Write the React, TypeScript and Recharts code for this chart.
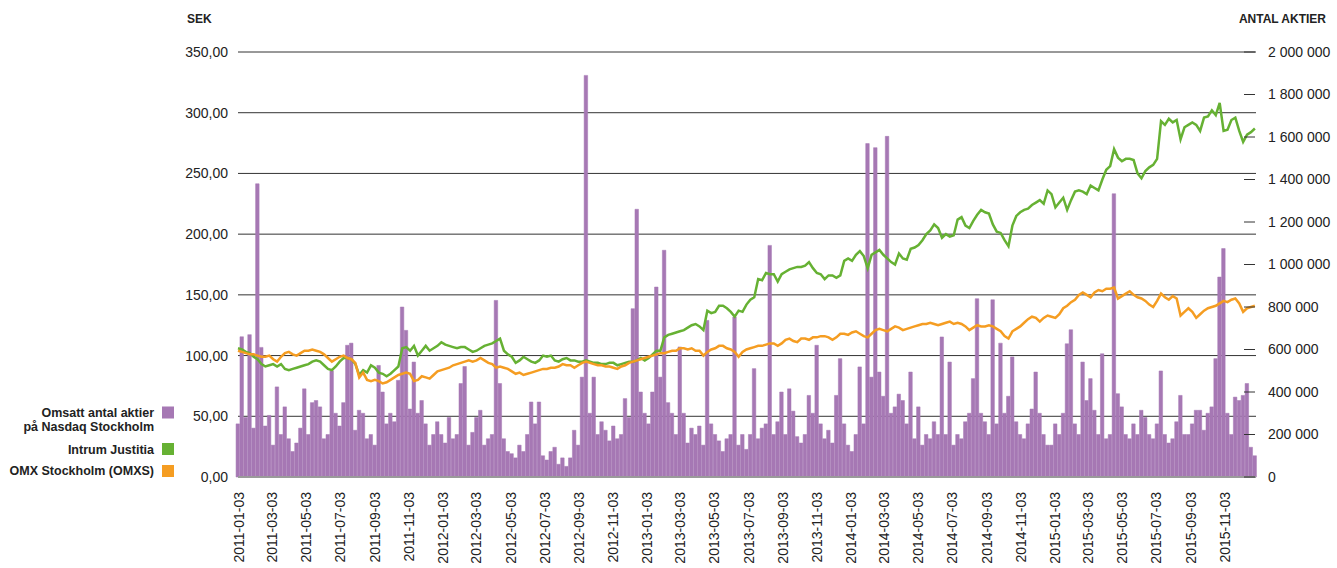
import React from 'react';
import { ComposedChart, Bar, Line, XAxis, YAxis, CartesianGrid } from 'recharts';

// x-axis labels (every second month)
const tickDates = [
  '2011-01-03', '2011-03-03', '2011-05-03', '2011-07-03', '2011-09-03', '2011-11-03',
  '2012-01-03', '2012-03-03', '2012-05-03', '2012-07-03', '2012-09-03', '2012-11-03',
  '2013-01-03', '2013-03-03', '2013-05-03', '2013-07-03', '2013-09-03', '2013-11-03',
  '2014-01-03', '2014-03-03', '2014-05-03', '2014-07-03', '2014-09-03', '2014-11-03',
  '2015-01-03', '2015-03-03', '2015-05-03', '2015-07-03', '2015-09-03', '2015-11-03',
];

const sekTicks = [0, 50, 100, 150, 200, 250, 300, 350];
const volumeTicks = [0, 200000, 400000, 600000, 800000, 1000000, 1200000, 1400000, 1600000, 1800000, 2000000];

// Intrum Justitia, SEK, weekly
const intrum2011 = [106, 105, 103, 102, 99, 97, 93, 91, 92, 93, 91, 93, 89, 88, 89, 90, 91, 92, 93, 95, 96, 95, 92, 89, 88, 91, 95, 98, 98, 97, 93, 84, 88, 86, 92, 90, 86, 85, 83, 85, 88, 91, 106, 107, 104, 108, 100, 104, 108, 104, 106, 108];
const intrum2012 = [111, 109, 108, 107, 106, 107, 107, 105, 103, 104, 106, 108, 109, 110, 112, 114, 104, 101, 99, 94, 96, 99, 97, 95, 94, 96, 100, 99, 100, 96, 95, 97, 98, 96, 96, 95, 95, 96, 95, 94, 94, 93, 93, 94, 94, 92, 93, 94, 95, 95, 96, 98];
const intrum2013 = [96, 98, 101, 104, 104, 115, 117, 118, 119, 120, 121, 123, 125, 126, 124, 121, 137, 135, 136, 141, 141, 139, 136, 132, 137, 136, 142, 146, 148, 163, 162, 168, 167, 167, 161, 167, 169, 171, 172, 173, 173, 174, 177, 172, 168, 167, 163, 166, 166, 164, 166, 178];
const intrum2014 = [180, 178, 183, 186, 182, 172, 183, 185, 187, 183, 180, 177, 175, 184, 180, 179, 188, 189, 191, 195, 200, 203, 208, 205, 197, 200, 198, 199, 212, 214, 207, 205, 211, 216, 220, 218, 217, 208, 202, 201, 195, 190, 207, 215, 218, 220, 221, 224, 226, 228, 225, 236];
const intrum2015 = [233, 222, 226, 230, 220, 228, 235, 236, 235, 233, 240, 238, 236, 245, 253, 256, 270, 263, 260, 262, 262, 261, 250, 246, 252, 255, 257, 262, 293, 290, 295, 292, 294, 278, 288, 290, 292, 290, 285, 296, 297, 302, 298, 308, 285, 286, 294, 296, 285, 276, 282, 284, 287];

// OMX Stockholm (OMXS), indexed to Intrum, weekly
const omx2011 = [104, 103, 102, 101, 101, 100, 99, 99, 100, 97, 95, 99, 102, 103, 101, 100, 102, 104, 104, 105, 104, 103, 101, 98, 95, 97, 99, 100, 98, 97, 94, 82, 86, 80, 79, 80, 79, 77, 78, 80, 82, 84, 85, 86, 85, 79, 80, 83, 82, 81, 84, 87];
const omx2012 = [88, 89, 90, 92, 93, 94, 95, 96, 95, 96, 98, 96, 94, 93, 90, 91, 90, 89, 87, 85, 86, 84, 85, 86, 87, 88, 89, 89, 90, 90, 91, 93, 92, 92, 90, 92, 94, 95, 94, 93, 92, 92, 91, 91, 90, 89, 91, 92, 94, 95, 96, 97];
const omx2013 = [98, 99, 100, 101, 102, 102, 103, 104, 104, 106, 106, 105, 106, 104, 104, 100, 103, 105, 106, 108, 108, 106, 105, 103, 99, 103, 105, 106, 107, 108, 108, 109, 110, 110, 108, 110, 113, 114, 112, 111, 114, 114, 113, 115, 115, 116, 116, 115, 113, 115, 118, 118];
const omx2014 = [117, 119, 120, 118, 116, 115, 118, 121, 122, 121, 120, 122, 124, 123, 121, 122, 123, 124, 125, 126, 126, 127, 126, 125, 126, 127, 128, 126, 127, 126, 124, 121, 123, 125, 124, 124, 125, 124, 122, 120, 116, 114, 120, 122, 124, 127, 130, 132, 131, 128, 131, 133];
const omx2015 = [132, 131, 134, 139, 141, 144, 146, 150, 152, 150, 148, 152, 154, 153, 155, 155, 156, 147, 149, 151, 153, 150, 148, 147, 145, 142, 140, 145, 151, 148, 146, 149, 147, 133, 136, 139, 136, 131, 134, 137, 139, 140, 141, 143, 145, 144, 146, 147, 143, 136, 139, 140, 141];

// Omsatt antal aktier, thousands, weekly
const volume2011 = [250, 660, 280, 670, 230, 1380, 610, 240, 290, 150, 424, 200, 330, 180, 120, 160, 230, 415, 200, 350, 360, 330, 180, 200, 500, 300, 240, 350, 620, 630, 220, 314, 300, 180, 200, 150, 525, 400, 250, 300, 260, 455, 800, 690, 320, 541, 300, 360, 250, 150, 200, 260];
const volume2012 = [200, 160, 280, 180, 200, 440, 520, 150, 210, 280, 314, 150, 180, 200, 831, 440, 180, 120, 110, 90, 150, 120, 200, 353, 250, 353, 100, 80, 120, 140, 60, 90, 50, 90, 220, 150, 470, 1890, 300, 470, 200, 260, 220, 170, 240, 180, 200, 369, 280, 792, 1260, 400];
const volume2013 = [300, 250, 400, 894, 470, 1067, 350, 300, 200, 612, 300, 160, 230, 200, 240, 150, 737, 250, 200, 170, 120, 180, 200, 753, 150, 200, 130, 200, 510, 180, 230, 250, 1090, 200, 260, 400, 200, 415, 310, 190, 160, 200, 384, 300, 620, 250, 180, 220, 160, 384, 557, 250];
const volume2014 = [150, 120, 200, 518, 250, 1569, 470, 1550, 494, 380, 1603, 300, 330, 390, 360, 250, 494, 180, 330, 150, 200, 180, 260, 200, 659, 200, 541, 150, 200, 180, 260, 300, 463, 839, 300, 260, 200, 834, 250, 630, 300, 380, 565, 260, 200, 180, 250, 320, 494, 300, 200, 150];
const volume2015 = [150, 250, 200, 300, 627, 693, 250, 200, 541, 360, 463, 314, 200, 580, 180, 200, 1333, 392, 330, 200, 180, 250, 200, 314, 280, 200, 180, 250, 499, 200, 160, 180, 260, 384, 200, 200, 250, 314, 314, 220, 300, 330, 557, 941, 1075, 300, 200, 376, 360, 384, 440, 140, 100];

const intrum = [...intrum2011, ...intrum2012, ...intrum2013, ...intrum2014, ...intrum2015];
const omx = [...omx2011, ...omx2012, ...omx2013, ...omx2014, ...omx2015];
const volumeK = [...volume2011, ...volume2012, ...volume2013, ...volume2014, ...volume2015];

const START = Date.parse('2011-01-03');
const dayOf = (s: string) => Math.round((Date.parse(s) - START) / 86400000);
const LAST_DAY = dayOf('2015-12-30');
const tickDays = tickDates.map(dayOf);

const rows = volumeK.map((v, i) => ({
  day: i * 7,
  volume: v * 1000,
  intrum: intrum[i],
  omx: omx[i],
}));

const PURPLE = '#a678b4';
const GREEN = '#66b133';
const ORANGE = '#f59d22';
const TEXT = '#222';

const fmtSek = (v: number) => v.toFixed(2).replace('.', ',');
const fmtVol = (v: number) => String(v).replace(/\B(?=(\d{3})+(?!\d))/g, ' ');

const DateTick = (props: any) => {
  const { x, payload } = props;
  const idx = tickDays.indexOf(payload.value);
  return (
    <text
      transform={`translate(${x + 1},492) rotate(-90)`}
      textAnchor="end"
      dy="0.355em"
      fontSize={14}
      fill={TEXT}
    >
      {tickDates[idx]}
    </text>
  );
};

const VolumeTick = (props: any) => {
  const { x, y, payload } = props;
  return (
    <g>
      <line x1={x - 24} x2={x - 13} y1={y} y2={y} stroke="#333" strokeWidth={1} />
      <text x={x} y={y} dy="0.355em" textAnchor="start" fontSize={14} fill={TEXT}>
        {fmtVol(payload.value)}
      </text>
    </g>
  );
};

export default function App() {
  return (
    <div
      style={{
        position: 'absolute',
        left: 0,
        top: 0,
        width: 1337,
        height: 568,
        background: '#fff',
        fontFamily: '"Liberation Sans", Arial, Helvetica, sans-serif',
      }}
    >
      <ComposedChart width={1337} height={568} data={rows} margin={{ top: 52, right: 0, bottom: 6, left: 0 }}>
        <XAxis
          dataKey="day"
          type="number"
          domain={[0, LAST_DAY]}
          ticks={tickDays}
          interval={0}
          tick={<DateTick />}
          tickLine={false}
          tickSize={0}
          height={85}
          axisLine={{ stroke: '#9a9a9a', strokeWidth: 2 }}
        />
        <YAxis
          yAxisId="sek"
          orientation="left"
          width={238}
          domain={[0, 350]}
          ticks={sekTicks}
          tickFormatter={fmtSek}
          tickLine={false}
          axisLine={false}
          tickSize={0}
          tickMargin={10}
          tick={{ fill: TEXT, fontSize: 14 }}
        />
        <YAxis
          yAxisId="vol"
          orientation="right"
          width={81}
          domain={[0, 2000000]}
          ticks={volumeTicks}
          tick={<VolumeTick />}
          tickLine={false}
          axisLine={false}
          tickSize={0}
          tickMargin={12}
        />
        <Bar
          yAxisId="vol"
          dataKey="volume"
          fill={PURPLE}
          stroke={PURPLE}
          strokeWidth={0.5}
          barSize={4}
          isAnimationActive={false}
        />
        <CartesianGrid yAxisId="sek" vertical={false} stroke="#333" strokeWidth={1} />
        <Line yAxisId="sek" type="linear" dataKey="intrum" stroke={GREEN} strokeWidth={2.5} dot={false} isAnimationActive={false} />
        <Line yAxisId="sek" type="linear" dataKey="omx" stroke={ORANGE} strokeWidth={2.5} dot={false} isAnimationActive={false} />
      </ComposedChart>

      <svg
        width={1337}
        height={568}
        style={{ position: 'absolute', left: 0, top: 0, pointerEvents: 'none' }}
      >
        <text x={187} y={22.5} fontSize={12} fontWeight="bold" fill={TEXT}>SEK</text>
        <text x={1326} y={23} fontSize={12} fontWeight="bold" fill={TEXT} textAnchor="end">ANTAL AKTIER</text>

        <g fontSize={12.5} fontWeight="bold" fill={TEXT} textAnchor="end">
          <text x={154} y={416.5}>Omsatt antal aktier</text>
          <text x={154} y={430.5}>på Nasdaq Stockholm</text>
          <text x={154} y={453.5}>Intrum Justitia</text>
          <text x={154} y={475}>OMX Stockholm (OMXS)</text>
        </g>
        <rect x={162} y={406.5} width={12} height={12} fill={PURPLE} />
        <rect x={162} y={443} width={12} height={12} fill={GREEN} />
        <rect x={162} y={465} width={12} height={12} fill={ORANGE} />
      </svg>
    </div>
  );
}
